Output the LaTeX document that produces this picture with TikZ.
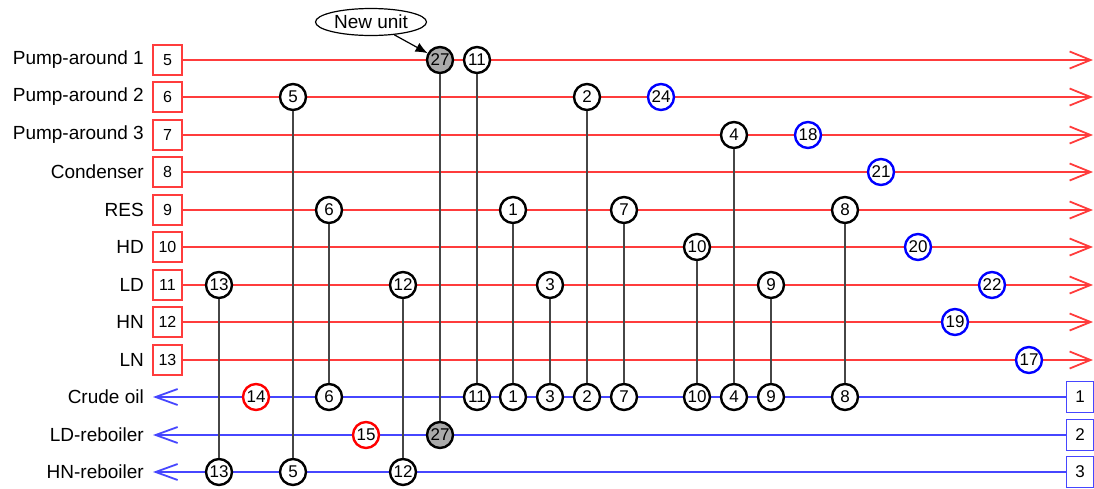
\documentclass[tikz,border=0pt]{standalone}
\usepackage{fontspec}
\setmainfont{Liberation Sans}
\usetikzlibrary{arrows.meta,shapes.geometric}
\definecolor{hotred}{RGB}{255,60,60}
\definecolor{coldblue}{RGB}{70,70,255}
\definecolor{vgray}{RGB}{70,70,70}
\definecolor{newgray}{RGB}{170,170,170}
\tikzset{
  lbl/.style={anchor=east,inner sep=0pt,font=\fontsize{19}{19}\selectfont},
  hbox/.style={draw=hotred,line width=1.2pt,minimum width=29pt,minimum height=30pt,inner sep=0pt,font=\fontsize{16}{16}\selectfont},
  cbox/.style={draw=coldblue,line width=1.2pt,minimum width=27pt,minimum height=31pt,inner sep=0pt,font=\fontsize{17}{17}\selectfont},
  hline/.style={draw=hotred,line width=1.8pt,-{Straight Barb[length=21pt,width=17pt]}},
  cline/.style={draw=coldblue,line width=1.8pt,-{Straight Barb[length=22pt,width=16pt]}},
  hx/.style={circle,draw=black,fill=white,line width=2.4pt,minimum size=26pt,inner sep=0pt,font=\fontsize{17}{17}\selectfont},
  newhx/.style={hx,fill=newgray},
  util/.style={hx,draw=blue,line width=2.4pt},
  heater/.style={hx,draw=red,line width=2.4pt},
  vline/.style={draw=vgray,line width=1.6pt},
}
\newcommand{\cx}[1]{{int(219+36.8*#1+0.5)}}
\newcommand{\ry}[1]{{int(60+37.5*#1)}}
\begin{document}
\begin{tikzpicture}[x=1pt,y=-1pt]
\useasboundingbox (0,0) rectangle (1094,488);
% hot streams
\foreach \n/\t/\i in {5/Pump-around 1/0,6/Pump-around 2/1,7/Pump-around 3/2,8/Condenser/3,9/RES/4,10/HD/5,11/LD/6,12/HN/7,13/LN/8}{
  \node[lbl] (l\n) at (144,\ry{\i}) {\t};
  \node[hbox] (b\n) at (167.5,\ry{\i}) {\n};
  \coordinate (e\n) at (1093,\ry{\i});
  \draw[hline] (b\n) -- (e\n);
}
% cold streams
\foreach \n/\t/\i in {1/Crude oil/9,2/LD-reboiler/10,3/HN-reboiler/11}{
  \node[lbl] (lc\n) at (144,\ry{\i}) {\t};
  \node[cbox] (bc\n) at (1080,\ry{\i}) {\n};
  \coordinate (ec\n) at (153,\ry{\i});
  \draw[cline] (bc\n) -- (ec\n);
}
% exchangers on hot streams
\node[newhx] (x27a) at (\cx{6},\ry{0}) {27};
\node[hx] (x11a) at (\cx{7},\ry{0}) {11};
\node[hx] (x5a) at (\cx{2},\ry{1}) {5};
\node[hx] (x2a) at (\cx{10},\ry{1}) {2};
\node[util] (u24) at (\cx{12},\ry{1}) {24};
\node[hx] (x4a) at (\cx{14},\ry{2}) {4};
\node[util] (u18) at (\cx{16},\ry{2}) {18};
\node[util] (u21) at (\cx{18},\ry{3}) {21};
\node[hx] (x6a) at (\cx{3},\ry{4}) {6};
\node[hx] (x1a) at (\cx{8},\ry{4}) {1};
\node[hx] (x7a) at (\cx{11},\ry{4}) {7};
\node[hx] (x8a) at (\cx{17},\ry{4}) {8};
\node[hx] (x10a) at (\cx{13},\ry{5}) {10};
\node[util] (u20) at (\cx{19},\ry{5}) {20};
\node[hx] (x13a) at (\cx{0},\ry{6}) {13};
\node[hx] (x12a) at (\cx{5},\ry{6}) {12};
\node[hx] (x3a) at (\cx{9},\ry{6}) {3};
\node[hx] (x9a) at (\cx{15},\ry{6}) {9};
\node[util] (u22) at (\cx{21},\ry{6}) {22};
\node[util] (u19) at (\cx{20},\ry{7}) {19};
\node[util] (u17) at (\cx{22},\ry{8}) {17};
% exchangers on cold streams
\node[heater] (h14) at (\cx{1},\ry{9}) {14};
\node[hx] (x6b) at (\cx{3},\ry{9}) {6};
\node[hx] (x11b) at (\cx{7},\ry{9}) {11};
\node[hx] (x1b) at (\cx{8},\ry{9}) {1};
\node[hx] (x3b) at (\cx{9},\ry{9}) {3};
\node[hx] (x2b) at (\cx{10},\ry{9}) {2};
\node[hx] (x7b) at (\cx{11},\ry{9}) {7};
\node[hx] (x10b) at (\cx{13},\ry{9}) {10};
\node[hx] (x4b) at (\cx{14},\ry{9}) {4};
\node[hx] (x9b) at (\cx{15},\ry{9}) {9};
\node[hx] (x8b) at (\cx{17},\ry{9}) {8};
\node[heater] (h15) at (\cx{4},\ry{10}) {15};
\node[newhx] (x27b) at (\cx{6},\ry{10}) {27};
\node[hx] (x13b) at (\cx{0},\ry{11}) {13};
\node[hx] (x5b) at (\cx{2},\ry{11}) {5};
\node[hx] (x12b) at (\cx{5},\ry{11}) {12};
% vertical connectors
\foreach \m in {27,11,5,2,4,6,1,7,8,10,13,12,3,9}{
  \draw[vline] (x\m a) -- (x\m b);
}
% new unit callout
\node[ellipse,draw=black,line width=1.2pt,minimum width=111pt,minimum height=27pt,inner sep=0pt,font=\fontsize{19}{19}\selectfont] (nu) at (371,22) {New unit};
\draw[line width=1.2pt,-{Latex[length=12pt,width=10pt]}] (nu) -- (x27a);
\end{tikzpicture}
\end{document}
